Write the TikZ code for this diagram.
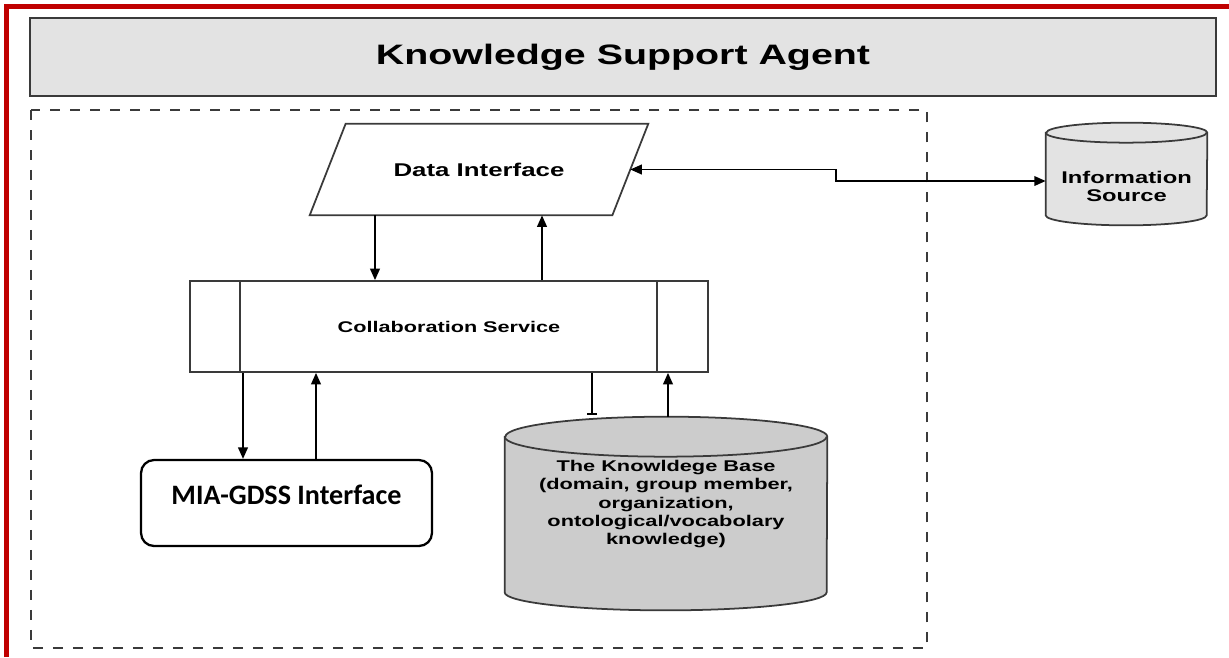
\documentclass[tikz,border=0pt]{standalone}
\usepackage{fontspec}
\newfontfamily\lucid[FakeStretch=1.4]{Liberation Sans}
\newfontfamily\calib{Carlito}
\usetikzlibrary{arrows.meta}
\definecolor{framered}{HTML}{C00000}
\definecolor{lightgrey}{HTML}{E3E3E3}
\definecolor{kbgrey}{HTML}{CCCCCC}
\definecolor{edgegrey}{HTML}{3A3A3A}

\begin{document}
\begin{tikzpicture}[x=0.02cm, y=-0.02cm,
  box/.style={draw=edgegrey, line width=1pt, font=\lucid\bfseries, inner sep=0pt},
  edge/.style={draw=edgegrey, line width=1pt},
  arr/.style={-{Triangle[length=6.5pt,width=5.5pt]}, line width=1pt},
  body/.style={inner sep=0pt},
  dbtext/.style={align=center, inner sep=0pt}]
  \useasboundingbox (0,0) rectangle (1229,657);

  % cornice
  \draw[framered, line width=3.4pt] (6.5,657) -- (6.5,6.5) -- (1229,6.5);

  % titolo
  \node[box, fill=lightgrey, line width=1.5pt, minimum width=23.72cm, minimum height=1.56cm,
        font=\lucid\bfseries\fontsize{16}{19}\selectfont] (KSA) at (623,57) {Knowledge Support Agent};

  % area tratteggiata
  \draw[edgegrey, line width=1pt, dash pattern=on 0.2cm off 0.2cm] (31,110) rectangle (927,648);

  % data interface
  \node[body, minimum width=6.04cm, minimum height=1.82cm,
        font=\lucid\bfseries\fontsize{10.5}{12.6}\selectfont] (DI) at (479,169.5) {Data Interface};
  \draw[edge] ([xshift=0.36cm]DI.north west) -- ([xshift=0.36cm]DI.north east)
    -- ([xshift=-0.36cm]DI.south east) -- ([xshift=-0.36cm]DI.south west) -- cycle;

  % collaboration service
  \node[box, minimum width=10.36cm, minimum height=1.82cm,
        font=\lucid\bfseries\fontsize{8.8}{10.5}\selectfont] (CS) at (449,326.5) {Collaboration Service};
  \draw[edge] ([xshift=1.02cm]CS.north west) -- ([xshift=1.02cm]CS.south west);
  \draw[edge] ([xshift=-1.04cm]CS.north east) -- ([xshift=-1.04cm]CS.south east);

  % interfaccia
  \node[draw, line width=1.3pt, rounded corners=0.26cm, minimum width=5.82cm, minimum height=1.72cm,
        text height=11pt, text depth=9.6pt, inner sep=0pt,
        font=\calib\bfseries\fontsize{16}{19}\selectfont] (MIA) at (286.5,503) {MIA-GDSS Interface};

  % knowledge base
  \node[body, minimum width=6.44cm, minimum height=3.1cm] (KB) at (666,514.5) {};
  \filldraw[edge, fill=kbgrey] (KB.north west) -- (KB.south west)
    arc[start angle=180, end angle=360, x radius=3.22cm, y radius=0.36cm]
    -- (KB.north east) arc[start angle=0, end angle=180, x radius=3.22cm, y radius=0.4cm] -- cycle;
  \draw[edge] (KB.north west) arc[start angle=180, end angle=360, x radius=3.22cm, y radius=0.4cm];
  \node[dbtext, font=\lucid\bfseries\fontsize{8.85}{10.5}\selectfont] (KBt) at (666,504)
        {The Knowldege Base\\(domain, group member,\\organization,\\ontological/vocabolary\\knowledge)};

  % information source
  \node[body, minimum width=3.22cm, minimum height=1.64cm] (IS) at (1126.5,174) {};
  \filldraw[edge, fill=lightgrey] (IS.north west) -- (IS.south west)
    arc[start angle=180, end angle=360, x radius=1.61cm, y radius=0.2cm]
    -- (IS.north east) arc[start angle=0, end angle=180, x radius=1.61cm, y radius=0.2cm] -- cycle;
  \draw[edge] (IS.north west) arc[start angle=180, end angle=360, x radius=1.61cm, y radius=0.2cm];
  \node[dbtext, font=\lucid\bfseries\fontsize{9.65}{10.2}\selectfont] (ISt) at (1126.5,186)
        {Information\\Source};

  % frecce
  \draw[arr] (375,0 |- DI.south) -- (375,0 |- CS.north);
  \draw[arr] (542,0 |- CS.north) -- (542,0 |- DI.south);
  \draw[arr] (243,0 |- CS.south) -- (243,0 |- MIA.north);
  \draw[arr] (316,0 |- MIA.north) -- (316,0 |- CS.south);
  \draw[-{Bar[width=5.7pt]}, line width=1pt] (592,0 |- CS.south) -- ([yshift=0.44cm]592,0 |- KB.north);
  \draw[arr] ([yshift=0.4cm]668,0 |- KB.north) -- (668,0 |- CS.south);
  \draw[{Triangle[length=6.5pt,width=5.5pt]}-{Triangle[length=6.5pt,width=5.5pt]}, line width=1pt]
        (DI.east) -- ++(206,0) |- ([yshift=-0.14cm]IS.west);
\end{tikzpicture}
\end{document}
